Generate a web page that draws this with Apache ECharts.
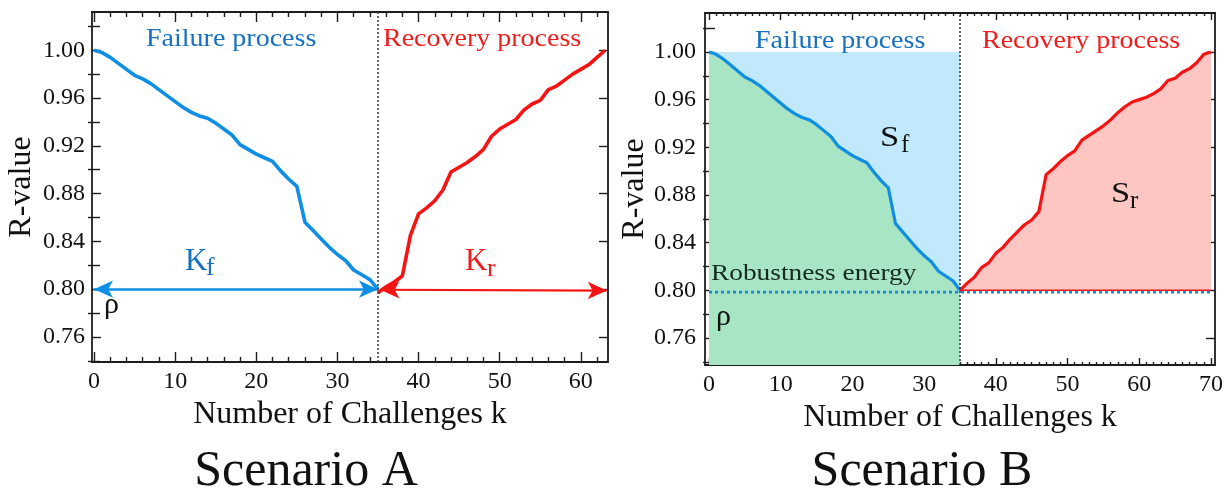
<!DOCTYPE html>
<html><head><meta charset="utf-8">
<script src="https://cdn.jsdelivr.net/npm/echarts@6/dist/echarts.min.js"></script>
<style>html,body{margin:0;padding:0;background:#fff}#c{width:1231px;height:493px}</style>
</head><body><div id="c"></div>
<script>
// ---- data ----
const kFail = [0,1,2,3,4,5,6,7,8,9,10,11,12,13,14,15,16,17,18,19,20,21,22,23,24,25,26,27,28,29,30,31,32,33,34,35];
const rFail = [1.000,0.998,0.994,0.989,0.984,0.979,0.976,0.972,0.967,0.962,0.957,0.952,0.948,0.945,0.943,0.939,0.934,0.929,0.921,0.917,0.913,0.910,0.907,0.899,0.892,0.886,0.856,0.849,0.842,0.835,0.829,0.824,0.816,0.812,0.808,0.800];
const kRecA = [35,36,37,38,39,40,41,42,43,44,45,46,47,48,49,50,51,52,53,54,55,56,57,58,59,60,61,62,63];
const rRecA = [0.797,0.802,0.806,0.811,0.845,0.863,0.868,0.874,0.883,0.898,0.902,0.906,0.911,0.917,0.928,0.934,0.938,0.942,0.950,0.955,0.958,0.967,0.970,0.975,0.980,0.984,0.988,0.994,1.000];
const kRecB = [35,36,37,38,39,40,41,42,43,44,45,46,47,48,49,50,51,52,53,54,55,56,57,58,59,60,61,62,63,64,65,66,67,68,69,70];
const rRecB = [0.800,0.806,0.811,0.819,0.823,0.831,0.836,0.843,0.849,0.855,0.859,0.866,0.897,0.902,0.908,0.913,0.917,0.926,0.930,0.934,0.938,0.943,0.949,0.954,0.958,0.960,0.962,0.965,0.969,0.976,0.978,0.983,0.986,0.991,0.998,1.000];
const rho = 0.80;
const rTop = 1.00;
const xTicksA = [0,10,20,30,40,50,60];
const xMinorA = [2,4,6,8,12,14,16,18,22,24,26,28,32,34,36,38,42,44,46,48,52,54,56,58,62];
const xTicksB = [0,10,20,30,40,50,60,70];
const xMinorB = [];
for (let i = 1; i < 70; i++) if (i % 10) xMinorB.push(i);
const yTicks = [0.76,0.80,0.84,0.88,0.92,0.96,1.00];
const yMinor = [0.74,0.78,0.82,0.86,0.90,0.94,0.98,1.02];

// ---- styles ----
const SERIF = "'Liberation Serif','Times New Roman',serif";
const BLUE = '#0f8ee5', BLUE_TXT = '#1770c0', RED = '#f51414', RED_TXT = '#f01e1e';
const INK = '#1c1c1c';

const pairs = (xs, ys) => xs.map((x, i) => [x, ys[i]]);

function xAxes(gi, min, max, majors, minors, majLen, minLen) {
  const common = {type:'value', gridIndex:gi, min, max, splitLine:{show:false}};
  return [
    Object.assign({}, common, {position:'bottom',
      axisLine:{show:true,onZero:false,lineStyle:{color:INK,width:1.8}},
      axisTick:{show:true,inside:true,length:majLen,customValues:majors,lineStyle:{color:INK,width:1.4}},
      axisLabel:{show:true,customValues:majors,margin:8,color:'#111',fontFamily:SERIF,fontSize:24,formatter:v=>String(Math.round(v))},
      name:'Number of Challenges k',nameLocation:'middle',nameGap:31,
      nameTextStyle:{fontFamily:SERIF,fontSize:32,color:'#111'}}),
    Object.assign({}, common, {position:'bottom',
      axisLine:{show:false},axisLabel:{show:false},
      axisTick:{show:true,inside:true,length:minLen,customValues:minors,lineStyle:{color:INK,width:1.4}}}),
    Object.assign({}, common, {position:'top',
      axisLine:{show:true,onZero:false,lineStyle:{color:INK,width:1.8}},axisLabel:{show:false},
      axisTick:{show:true,inside:true,length:majLen,customValues:majors,lineStyle:{color:INK,width:1.4}}}),
    Object.assign({}, common, {position:'top',
      axisLine:{show:false},axisLabel:{show:false},
      axisTick:{show:true,inside:true,length:minLen,customValues:minors,lineStyle:{color:INK,width:1.4}}})
  ];
}
function yAxes(gi, min, max, labelMargin) {
  const common = {type:'value', gridIndex:gi, min, max, splitLine:{show:false}};
  return [
    Object.assign({}, common, {position:'left',
      axisLine:{show:true,onZero:false,lineStyle:{color:INK,width:1.8}},
      axisTick:{show:true,inside:true,length:9,customValues:yTicks,lineStyle:{color:INK,width:1.4}},
      axisLabel:{show:true,customValues:yTicks,margin:labelMargin,color:'#111',fontFamily:SERIF,fontSize:24,formatter:v=>v.toFixed(2)},
      name:'R-value',nameLocation:'middle',nameRotate:90,nameGap:54,
      nameTextStyle:{fontFamily:SERIF,fontSize:32,color:'#111'}}),
    Object.assign({}, common, {position:'left',
      axisLine:{show:false},axisLabel:{show:false},
      axisTick:{show:true,inside:true,length:6,customValues:yMinor,lineStyle:{color:INK,width:1.4}}}),
    Object.assign({}, common, {position:'right',
      axisLine:{show:true,onZero:false,lineStyle:{color:INK,width:1.8}},axisLabel:{show:false},
      axisTick:{show:true,inside:true,length:9,customValues:yTicks,lineStyle:{color:INK,width:1.4}}}),
    Object.assign({}, common, {position:'right',
      axisLine:{show:false},axisLabel:{show:false},
      axisTick:{show:true,inside:true,length:6,customValues:yMinor,lineStyle:{color:INK,width:1.4}}})
  ];
}

function txt(x, base, text, size, color, opts) {
  opts = opts || {};
  return {type:'text', x:x, y: base - 0.33*size, scaleX: opts.sx || 1, z: 100,
    style:{text:text, font: size + 'px ' + SERIF, fontSize:size, fontFamily:SERIF, fill:color,
      textAlign: opts.align || 'left', textVerticalAlign:'middle', verticalAlign:'middle'}};
}

const divider = (xi, yi) => ({type:'line', xAxisIndex:xi, yAxisIndex:yi, data:[[kFail[kFail.length-1], rho]],
  symbol:'none', lineStyle:{width:0}, silent:true, z:5,
  markLine:{silent:true, symbol:'none', label:{show:false},
    lineStyle:{type:[2,2], color:'#333', width:1.5}, data:[{xAxis:kFail[kFail.length-1]}]}});

const lastK = kFail[kFail.length-1];

const option = {
  animation:false,
  backgroundColor:'#fff',
  grid:[
    {left:92, right:623, top:12, bottom:131, containLabel:false},
    {left:705, right:16, top:13, bottom:128, containLabel:false}
  ],
  xAxis: xAxes(0, -0.25, 63.35, xTicksA, xMinorA, 10, 5).concat(xAxes(1, -0.56, 70.56, xTicksB, xMinorB, 7, 3)),
  yAxis: yAxes(0, 0.739, 1.032, 7).concat(yAxes(1, 0.7373, 1.0327, 9)),
  series:[
    // ---- Scenario A ----
    {type:'line', name:'Failure A', xAxisIndex:0, yAxisIndex:0, data:pairs(kFail, rFail), symbol:'none',
      lineStyle:{color:BLUE, width:3.6, join:'round'}, z:3,
      markLine:{silent:true, symbol:['arrow','arrow'], symbolSize:[13,19], label:{show:false},
        lineStyle:{color:BLUE, width:2.6, type:'solid'},
        data:[[{coord:[kFail[0], rho]},{coord:[lastK, rho]}]]}},
    {type:'line', name:'Recovery A', xAxisIndex:0, yAxisIndex:0, data:pairs(kRecA, rRecA), symbol:'none',
      lineStyle:{color:RED, width:3.6, join:'round'}, z:3,
      markLine:{silent:true, symbol:['arrow','arrow'], symbolSize:[13,19], label:{show:false},
        lineStyle:{color:RED, width:2.2, type:'solid'},
        data:[[{coord:[kRecA[0]+0.3, rho-0.0005]},{coord:[kRecA[kRecA.length-1]+0.2, rho-0.0012]}]]}},
    divider(0, 0),
    // ---- Scenario B ----
    {type:'line', name:'Upper bound', xAxisIndex:4, yAxisIndex:4, data:[[kFail[0], rTop],[lastK, rTop]], symbol:'none',
      lineStyle:{width:0}, areaStyle:{color:'#c1e8fb', opacity:1, origin:'start'}, z:1},
    {type:'line', name:'Failure B', xAxisIndex:4, yAxisIndex:4, data:pairs(kFail, rFail), symbol:'none',
      lineStyle:{color:BLUE, width:3.2, join:'round'}, areaStyle:{color:'#a8e5c5', opacity:1, origin:'start'}, z:2},
    {type:'line', name:'Recovery B', xAxisIndex:4, yAxisIndex:4, data:pairs(kRecB, rRecB), symbol:'none',
      lineStyle:{color:RED, width:3.2, join:'round'}, areaStyle:{color:'#fdc6c3', opacity:1, origin:rho}, z:2},
    {type:'line', name:'Recovery base', xAxisIndex:4, yAxisIndex:4, data:[[kRecB[0], rho],[kRecB[kRecB.length-1], rho]], symbol:'none',
      lineStyle:{color:RED, width:1.6}, z:3},
    {type:'line', name:'rho', xAxisIndex:4, yAxisIndex:4, data:[[kFail[0], rho-0.0015],[kRecB[kRecB.length-1], rho-0.0015]], symbol:'none',
      lineStyle:{color:'#1a86d6', width:2.8, type:[3,3]}, z:4},
    divider(4, 4)
  ],
  graphic:[
    // Scenario A annotations
    txt(146, 48, 'Failure process', 25, BLUE_TXT, {sx:1.12}),
    txt(383, 48, 'Recovery process', 25, RED_TXT, {sx:1.12}),
    txt(185, 272, 'K', 31, BLUE_TXT),
    txt(206, 277, 'f', 26, BLUE_TXT),
    txt(465, 272, 'K', 31, RED_TXT),
    txt(487, 278, 'r', 26, RED_TXT),
    txt(104, 315, 'ρ', 30, '#111'),
    // Scenario B annotations
    txt(755, 50, 'Failure process', 25, BLUE_TXT, {sx:1.12}),
    txt(982, 50, 'Recovery process', 25, RED_TXT, {sx:1.12}),
    txt(880, 148, 'S', 30, '#111', {sx:1.15}),
    txt(901, 154, 'f', 25, '#111'),
    txt(1111, 204, 'S', 30, '#111', {sx:1.15}),
    txt(1130, 210, 'r', 25, '#111'),
    txt(711, 282, 'Robustness energy', 24, '#142a20', {sx:1.14}),
    txt(716, 327, 'ρ', 30, '#111'),
    // Scenario titles
    txt(306, 488, 'Scenario A', 50, '#111', {align:'center'}),
    txt(922, 488, 'Scenario B', 50, '#111', {align:'center'})
  ]
};

const chart = echarts.init(document.getElementById('c'), null, {renderer:'canvas'});
chart.setOption(option);
</script>
</body></html>
